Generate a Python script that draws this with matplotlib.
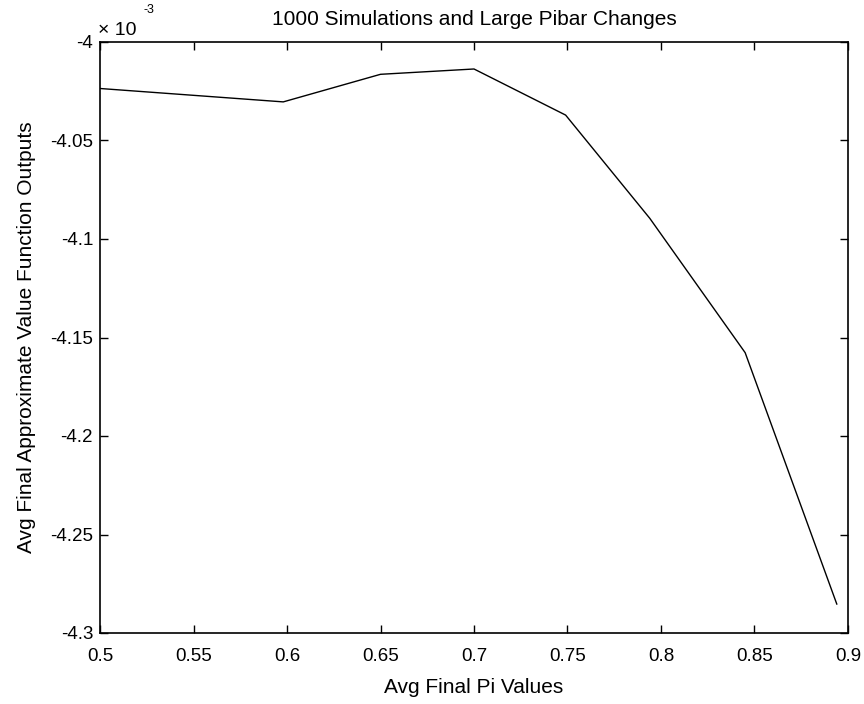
import matplotlib
matplotlib.use("Agg")
import matplotlib.pyplot as plt

# values (y in units of 1e-3)
pi_values = [0.5, 0.598, 0.65, 0.7, 0.749, 0.794, 0.845, 0.894]
value_outputs = [-4.0236, -4.0304, -4.0164, -4.0137, -4.0371, -4.0895, -4.1577, -4.2853]

xticks = [0.5, 0.55, 0.6, 0.65, 0.7, 0.75, 0.8, 0.85, 0.9]
xtick_labels = ['0.5', '0.55', '0.6', '0.65', '0.7', '0.75', '0.8', '0.85', '0.9']
yticks = [-4.3, -4.25, -4.2, -4.15, -4.1, -4.05, -4.0]
ytick_labels = ['-4.3', '-4.25', '-4.2', '-4.15', '-4.1', '-4.05', '-4']

plt.rcParams['font.family'] = ['Liberation Sans', 'DejaVu Sans']

fig = plt.figure(figsize=(8.64, 7.04), dpi=100)
ax = fig.add_axes([100/864, 1 - 633/704, 748/864, 591/704])

ax.plot(pi_values, value_outputs, color='black', lw=1.0)

ax.set_xlim(0.5, 0.9)
ax.set_ylim(-4.3, -4.0)
ax.set_xticks(xticks)
ax.set_xticklabels(xtick_labels)
ax.set_yticks(yticks)
ax.set_yticklabels(ytick_labels)
ax.tick_params(direction='in', length=6, width=1.0, top=True, right=True, labelsize=13.5, colors='black')
ax.tick_params(axis='x', pad=11)
ax.tick_params(axis='y', pad=5)
for s in ax.spines.values():
    s.set_linewidth(1.2)

ax.set_title('1000 Simulations and Large Pibar Changes', fontsize=15, pad=12)
ax.set_xlabel('Avg Final Pi Values', fontsize=15, labelpad=9)
ax.set_ylabel('Avg Final Approximate Value Function Outputs', fontsize=15, labelpad=10)

# MATLAB-style exponent label
fig.text(98/864, 1 - 35/704, '\u00d7 10', fontsize=14, va='baseline', ha='left')
fig.text(143/864, 1 - 13/704, '-3', fontsize=9, va='baseline', ha='left')

fig.savefig('out.png', dpi=100, facecolor='white')
